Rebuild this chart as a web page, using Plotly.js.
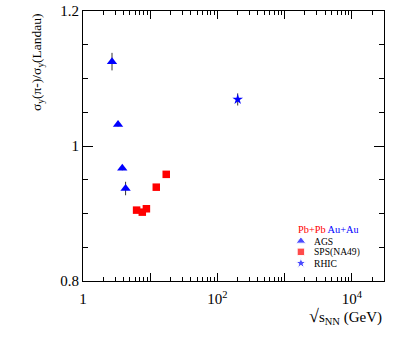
<!DOCTYPE html>
<html>
<head>
<meta charset="utf-8">
<script src="https://cdn.plot.ly/plotly-3.0.1.min.js"></script>
<style>html,body{margin:0;padding:0;background:#fff;}#chart{width:415px;height:352px;}</style>
</head>
<body>
<div id="chart"></div>
<script>
// AGS (Au+Au)
var agsX = [2.70, 3.32, 3.84, 4.30];
var agsY = [1.125, 1.032, 0.967, 0.937];
var agsErr = [0.013, 0.003, 0.003, 0.010];
// SPS NA49 (Pb+Pb)
var spsX = [6.27, 7.62, 8.77, 12.3, 17.3];
var spsY = [0.905, 0.902, 0.907, 0.939, 0.958];
var spsErr = [0.003, 0.003, 0.003, 0.003, 0.003];
// RHIC (Au+Au)
var rhicX = [200];
var rhicY = [1.069];
var rhicErr = [0.009];

var xTickVals = [1, 10, 100, 1000, 10000];
var xTickText = ["1", "", "10<sup>2</sup>", "", "10<sup>4</sup>"];
var yTickVals = [0.8, 1.0, 1.2];
var yTickText = ["0.8", "1", "1.2"];

var legendNames = ["AGS", "SPS(NA49)", "RHIC"];

var minorX = [];
for (var d = 1; d <= 10000; d *= 10) {
  for (var k = 2; k <= 9; k++) { if (d * k < 30000) minorX.push(d * k); }
}

var font = "Liberation Serif, Times New Roman, serif";
var errStyle = {type: 'data', visible: true, color: '#333', thickness: 1, width: 0};

var traces = [
  {x: agsX, y: agsY, error_y: Object.assign({array: agsErr}, errStyle), mode: 'markers', type: 'scatter',
   marker: {symbol: 'triangle-up', color: '#0000ff', size: 9}, name: legendNames[0], showlegend: false},
  {x: spsX, y: spsY, error_y: Object.assign({array: spsErr}, errStyle), mode: 'markers', type: 'scatter',
   marker: {symbol: 'square', color: '#ff0000', size: 7.5}, name: legendNames[1], showlegend: false},
  {x: rhicX, y: rhicY, error_y: Object.assign({array: rhicErr}, errStyle), mode: 'markers', type: 'scatter',
   marker: {symbol: 'star', color: '#0000ff', size: 8}, name: legendNames[2], showlegend: false},
  // legend markers on a hidden overlay axis
  {x: [0.724, 0.724, 0.724], y: [0.148, 0.108, 0.066], xaxis: 'x2', yaxis: 'y2', mode: 'markers', type: 'scatter',
   marker: {symbol: ['triangle-up', 'square', 'star'], color: ['#0000ff', '#ff0000', '#0000ff'], size: [8.5, 7.5, 8]},
   showlegend: false, hoverinfo: 'skip'}
];

var layout = {
  width: 415, height: 352,
  margin: {l: 83, r: 31, t: 11, b: 71},
  paper_bgcolor: '#fff', plot_bgcolor: '#fff',
  showlegend: false,
  font: {family: font, size: 15, color: '#000'},
  xaxis: {
    type: 'log', range: [0, Math.log10(30000)],
    tickmode: 'array', tickvals: xTickVals, ticktext: xTickText,
    ticks: 'inside', ticklen: 8, tickcolor: '#000', tickwidth: 1,
    minor: {tickmode: 'array', tickvals: minorX, ticks: 'inside', ticklen: 4, tickcolor: '#000'},
    showline: true, linecolor: '#000', linewidth: 1, mirror: 'ticks',
    showgrid: false, zeroline: false, ticklabelstandoff: 4,
    tickfont: {family: font, size: 15}
  },
  yaxis: {
    range: [0.8, 1.2],
    tickmode: 'array', tickvals: yTickVals, ticktext: yTickText,
    ticks: 'inside', ticklen: 10, tickcolor: '#000', tickwidth: 1,
    minor: {tickmode: 'linear', tick0: 0.8, dtick: 0.05, ticks: 'inside', ticklen: 5, tickcolor: '#000'},
    showline: true, linecolor: '#000', linewidth: 1, mirror: 'ticks',
    showgrid: false, zeroline: false,
    tickfont: {family: font, size: 15}
  },
  xaxis2: {overlaying: 'x', range: [0, 1], visible: false, fixedrange: true},
  yaxis2: {overlaying: 'y', range: [0, 1], visible: false, fixedrange: true},
  annotations: [
    {xref: 'paper', yref: 'paper', x: -0.153, y: 1.0, xanchor: 'center', yanchor: 'top', textangle: -90, showarrow: false,
     text: 'σ<sub>y</sub>(π-)/σ<sub>y</sub>(Landau)', font: {family: font, size: 13.5}},
    {xref: 'paper', yref: 'paper', x: 1.0, y: -0.133, xanchor: 'right', yanchor: 'middle', showarrow: false,
     text: '<span style="font-size:18px">√</span>s<sub>NN</sub> (GeV)', font: {family: font, size: 15}},
    {xref: 'paper', yref: 'paper', x: 0.708, y: 0.190, xanchor: 'left', yanchor: 'middle', showarrow: false, height: 11,
     text: '<span style="color:#ff0000">Pb+Pb</span> <span style="color:#0000ff">Au+Au</span>', font: {family: font, size: 10.3}},
    {xref: 'paper', yref: 'paper', x: 0.760, y: 0.148, xanchor: 'left', yanchor: 'middle', showarrow: false, height: 10,
     text: legendNames[0], font: {family: font, size: 9.6}},
    {xref: 'paper', yref: 'paper', x: 0.760, y: 0.108, xanchor: 'left', yanchor: 'middle', showarrow: false, height: 10,
     text: legendNames[1], font: {family: font, size: 9.6}},
    {xref: 'paper', yref: 'paper', x: 0.760, y: 0.066, xanchor: 'left', yanchor: 'middle', showarrow: false, height: 10,
     text: legendNames[2], font: {family: font, size: 9.6}}
  ]
};

Plotly.newPlot('chart', traces, layout, {staticPlot: true, displayModeBar: false});
</script>
</body>
</html>
